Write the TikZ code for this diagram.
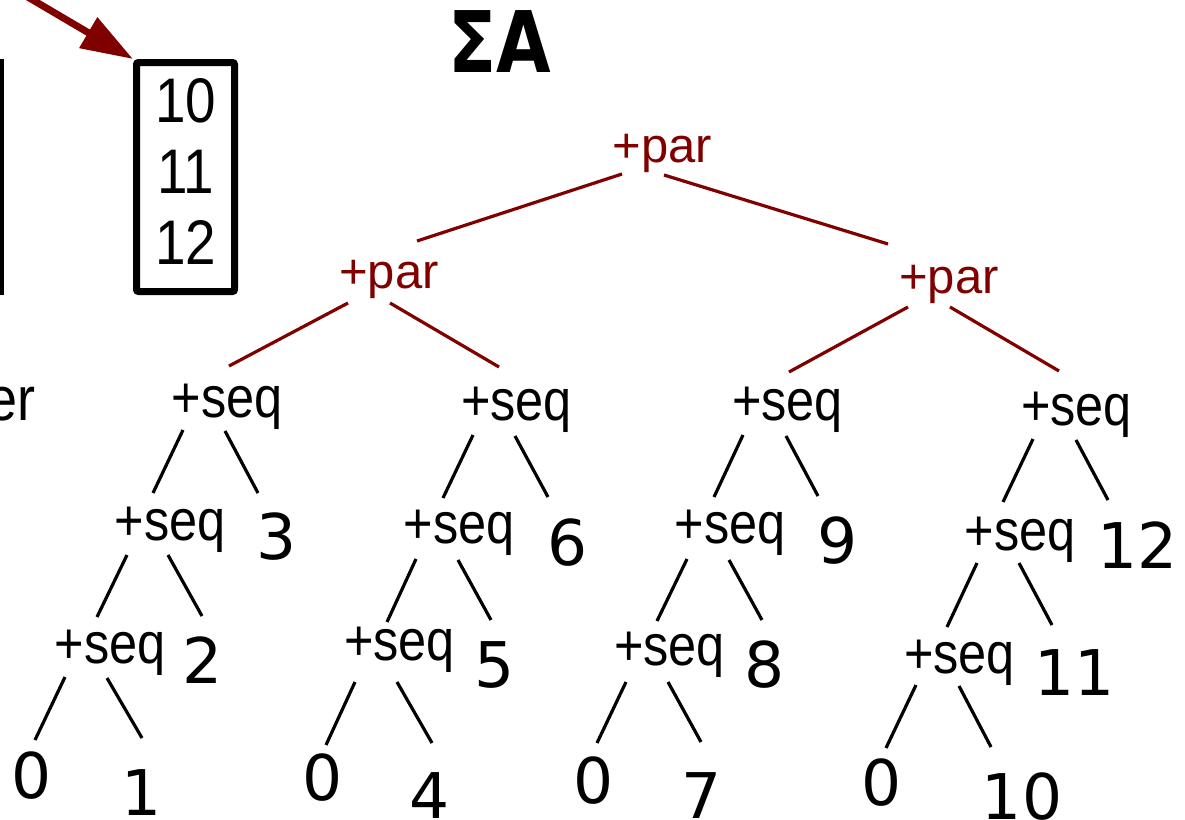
\documentclass[tikz,border=0pt]{standalone}
\usepackage{fontspec}
\usetikzlibrary{calc,arrows.meta}
\definecolor{maroon}{RGB}{128,0,0}
\newfontfamily\parfamily{Liberation Sans}
\newfontfamily\seqfamily[FakeStretch=0.87]{Liberation Sans}
\newfontfamily\leaffamily{DejaVu Sans}
\newfontfamily\sumfamily[FakeStretch=0.83]{DejaVu Sans}

\begin{document}
\begin{tikzpicture}[x=1pt,y=-1pt,
    parnode/.style={anchor=base,inner sep=0pt,text=maroon,font={\parfamily\fontsize{49}{50}\selectfont}},
    seqnode/.style={anchor=base,inner sep=0pt,font={\seqfamily\fontsize{58}{60}\selectfont}},
    leafnode/.style={anchor=base,inner sep=0pt,font={\leaffamily\fontsize{63}{65}\selectfont}},
    chunkbox/.style={draw,line width=7pt,rounded corners=2pt,minimum width=98pt,minimum height=229pt,
        inner sep=0pt,align=center,text depth=10pt,font={\seqfamily\fontsize{63}{71}\selectfont}},
    paredge/.style={draw=maroon,line width=3.2pt},
    seqedge/.style={draw=black,line width=3.2pt},
    arrowline/.style={draw=maroon,line width=7pt,-{Triangle[length=52pt,width=34pt]}}]
\useasboundingbox (0,0) rectangle (1185,819);
\clip (0,0) rectangle (1185,819);
% left side, cut off
\draw[line width=7pt] (-100,62.5) rectangle (0.5,291.5);
\node[seqnode,anchor=base east,font={\seqfamily\fontsize{62}{64}\selectfont}] (er) at (36,420) {er};
% the chunk and its arrow
\node[chunkbox] (chunk) at (185.5,177) {10\\11\\12};
\coordinate (from) at (-30,-37);
\draw[arrowline] (from) -- (chunk.north west);
\node[anchor=base,inner sep=0pt,font={\sumfamily\bfseries\fontsize{85}{86}\selectfont}] (sum) at (499.5,72) {ΣA};
% par nodes
\node[parnode] (R) at (662.5,162) {+par};
\node[parnode] (P1) at (389,288) {+par};
\node[parnode] (P2) at (949,293) {+par};
% seq nodes
\node[seqnode] (A2) at (227,417) {+seq};
\node[seqnode] (A3) at (170,540) {+seq};
\node[seqnode] (A4) at (110,663) {+seq};
\node[seqnode] (B2) at (516.5,420) {+seq};
\node[seqnode] (B3) at (459,543) {+seq};
\node[seqnode] (B4) at (399.5,660) {+seq};
\node[seqnode] (C2) at (787.5,420) {+seq};
\node[seqnode] (C3) at (730,543) {+seq};
\node[seqnode] (C4) at (669.5,665) {+seq};
\node[seqnode] (D2) at (1076.5,425) {+seq};
\node[seqnode] (D3) at (1020,550) {+seq};
\node[seqnode] (D4) at (959.5,673) {+seq};
% leaves
\node[leafnode] (zA) at (31.5,798) {0};
\node[leafnode] (v1) at (141.5,815) {1};
\node[leafnode] (v2) at (203,683) {2};
\node[leafnode] (v3) at (276.5,559) {3};
\node[leafnode] (zB) at (322.5,800) {0};
\node[leafnode] (v4) at (430,818) {4};
\node[leafnode] (v5) at (495,687) {5};
\node[leafnode] (v6) at (567.5,565) {6};
\node[leafnode] (zC) at (593.5,803) {0};
\node[leafnode] (v7) at (702,818) {7};
\node[leafnode] (v8) at (765,687) {8};
\node[leafnode] (v9) at (838,563) {9};
\node[leafnode] (zD) at (881.5,805) {0};
\node[leafnode] (v10) at (1022,819) {10};
\node[leafnode] (v11) at (1074.5,695) {11};
\node[leafnode] (v12) at (1137.5,568) {12};
% par edges
\draw[paredge] ($(R.base)+(-40.5,12)$) -- ($(P1.base)+(28,-47)$);
\draw[paredge] ($(R.base)+(1.5,13)$) -- ($(P2.base)+(-61,-49)$);
\draw[paredge] ($(P1.base)+(-41,15)$) -- ($(A2.base)+(2,-51)$);
\draw[paredge] ($(P1.base)+(1,15)$) -- ($(B2.base)+(-17.5,-53)$);
\draw[paredge] ($(P2.base)+(-41,14)$) -- ($(C2.base)+(1.5,-48)$);
\draw[paredge] ($(P2.base)+(1,14)$) -- ($(D2.base)+(-17.5,-54)$);
% seq edges
\draw[seqedge] ($(A2.base)+(-44,13)$) -- ($(A3.base)+(-17,-47)$);
\draw[seqedge] ($(A2.base)+(-2,14)$) -- ($(v3.base)+(-18.5,-66)$);
\draw[seqedge] ($(A3.base)+(-43,15)$) -- ($(A4.base)+(-13,-46)$);
\draw[seqedge] ($(A3.base)+(-2,15)$) -- ($(v2.base)+(-1,-67)$);
\draw[seqedge] ($(A4.base)+(-45,14)$) -- ($(zA.base)+(3.5,-58)$);
\draw[seqedge] ($(A4.base)+(-3,15)$) -- ($(v1.base)+(0.5,-77)$);
\draw[seqedge] ($(B2.base)+(-43.5,15)$) -- ($(B3.base)+(-16,-45)$);
\draw[seqedge] ($(B2.base)+(-1.5,16)$) -- ($(v6.base)+(-19.5,-68)$);
\draw[seqedge] ($(B3.base)+(-43,16)$) -- ($(B4.base)+(-12.5,-38)$);
\draw[seqedge] ($(B3.base)+(-1,17)$) -- ($(v5.base)+(-4,-67)$);
\draw[seqedge] ($(B4.base)+(-44.5,22)$) -- ($(zB.base)+(3.5,-55)$);
\draw[seqedge] ($(B4.base)+(-2.5,22)$) -- ($(v4.base)+(2,-75)$);
\draw[seqedge] ($(C2.base)+(-44.5,15)$) -- ($(C3.base)+(-16,-46)$);
\draw[seqedge] ($(C2.base)+(-1.5,16)$) -- ($(v9.base)+(-20,-67)$);
\draw[seqedge] ($(C3.base)+(-43,16)$) -- ($(C4.base)+(-12.5,-44)$);
\draw[seqedge] ($(C3.base)+(-1,17)$) -- ($(v8.base)+(-3,-67)$);
\draw[seqedge] ($(C4.base)+(-43.5,17)$) -- ($(zC.base)+(3.5,-60)$);
\draw[seqedge] ($(C4.base)+(-1.5,17)$) -- ($(v7.base)+(-1,-76)$);
\draw[seqedge] ($(D2.base)+(-43.5,14)$) -- ($(D3.base)+(-17,-48)$);
\draw[seqedge] ($(D2.base)+(-0.5,15)$) -- ($(v12.base)+(-29.5,-68)$);
\draw[seqedge] ($(D3.base)+(-43,13)$) -- ($(D4.base)+(-12.5,-46)$);
\draw[seqedge] ($(D3.base)+(-1,13)$) -- ($(v11.base)+(-22.5,-70)$);
\draw[seqedge] ($(D4.base)+(-43.5,12)$) -- ($(zD.base)+(4.5,-57)$);
\draw[seqedge] ($(D4.base)+(-0.5,13)$) -- ($(v10.base)+(-31,-72)$);
\end{tikzpicture}
\end{document}
